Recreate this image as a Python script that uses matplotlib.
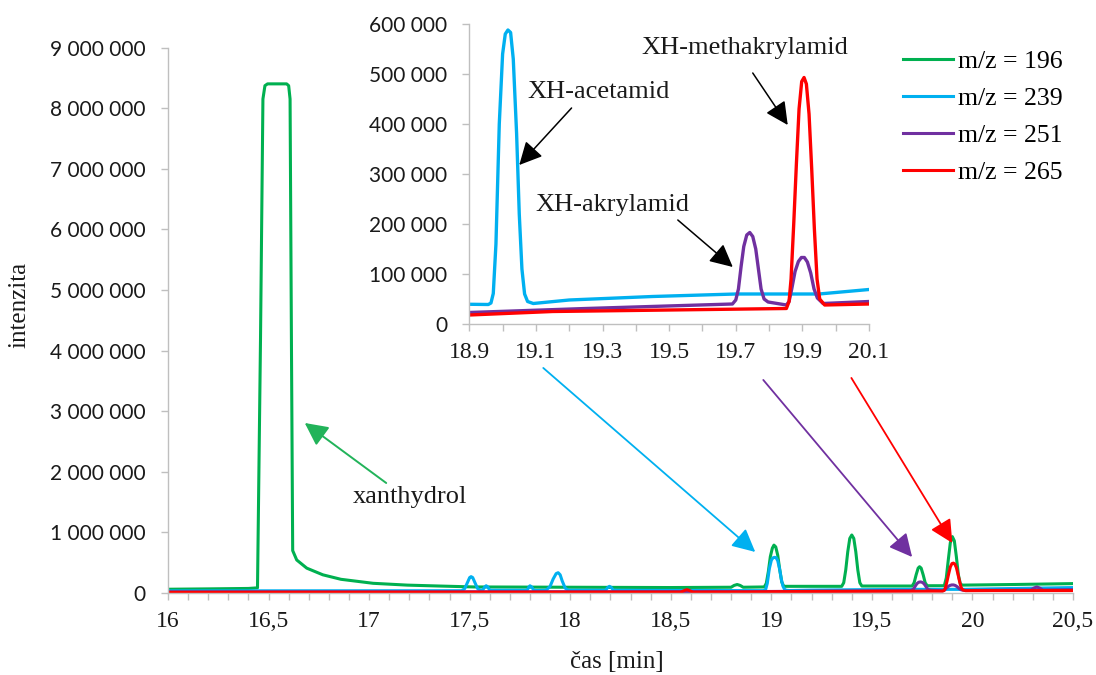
import matplotlib

matplotlib.use("Agg")
import matplotlib.pyplot as plt
from matplotlib.ticker import FixedLocator, FuncFormatter

# Chromatogram traces: retention time [min] and intensity per m/z channel
t_196 = [16.00, 16.20, 16.40, 16.445, 16.46, 16.472, 16.482, 16.495, 16.59, 16.60,
         16.607, 16.614, 16.62, 16.64, 16.69, 16.77, 16.86, 17.02, 17.19, 17.35,
         17.52, 18.00, 18.50, 18.80, 18.815, 18.83, 18.845, 18.86, 18.965, 18.975,
         18.985, 18.995, 19.005, 19.013, 19.022, 19.032, 19.042, 19.052, 19.062, 19.35,
         19.36, 19.37, 19.38, 19.39, 19.40, 19.41, 19.42, 19.43, 19.44, 19.45,
         19.70, 19.71, 19.72, 19.73, 19.737, 19.745, 19.755, 19.765, 19.775, 19.86,
         19.87, 19.88, 19.89, 19.90, 19.91, 19.92, 19.93, 19.94, 19.95, 20.20,
         20.50]
i_196 = [62000, 68000, 75000, 85000, 4200000, 8150000, 8370000, 8400000, 8400000, 8370000,
         8150000, 4000000, 700000, 545000, 410000, 300000, 226000, 160000, 130000, 115000,
         100000, 95000, 90000, 95000, 125000, 140000, 125000, 95000, 100000, 160000,
         350000, 600000, 740000, 790000, 760000, 620000, 380000, 180000, 110000, 110000,
         170000, 380000, 680000, 900000, 957000, 900000, 680000, 380000, 170000, 115000,
         115000, 170000, 300000, 410000, 434000, 410000, 300000, 170000, 120000, 120000,
         250000, 550000, 830000, 930000, 860000, 600000, 300000, 150000, 130000, 140000,
         155000]

t_239 = [16.00, 17.46, 17.475, 17.49, 17.50, 17.507, 17.515, 17.525, 17.54, 17.555,
         17.565, 17.575, 17.582, 17.59, 17.60, 17.785, 17.795, 17.80, 17.808, 17.82,
         17.88, 17.90, 17.915, 17.93, 17.94, 17.95, 17.96, 17.975, 17.99, 18.175,
         18.188, 18.195, 18.203, 18.215, 18.957, 18.965, 18.972, 18.980, 18.990, 19.000,
         19.008, 19.016, 19.024, 19.032, 19.042, 19.050, 19.058, 19.066, 19.075, 19.092,
         19.20, 19.45, 19.70, 19.95, 20.10, 20.50]
i_239 = [35000, 38000, 70000, 180000, 255000, 270000, 255000, 180000, 70000, 45000,
         50000, 100000, 120000, 100000, 45000, 45000, 100000, 120000, 100000, 40000,
         45000, 110000, 230000, 320000, 335000, 300000, 200000, 80000, 45000, 45000,
         95000, 110000, 95000, 45000, 39000, 42000, 61000, 160000, 400000, 540000,
         580000, 588000, 583000, 530000, 381000, 220000, 110000, 60000, 45000, 41000,
         48000, 55000, 60000, 60000, 69000, 90000]

t_251 = [16.00, 18.90, 19.25, 19.69, 19.70, 19.708, 19.716, 19.724, 19.733, 19.742,
         19.751, 19.760, 19.768, 19.776, 19.785, 19.797, 19.852, 19.86, 19.868, 19.878,
         19.888, 19.897, 19.906, 19.915, 19.925, 19.935, 19.945, 19.962, 20.10, 20.29,
         20.305, 20.32, 20.335, 20.35, 20.50]
i_251 = [18000, 23000, 31000, 40000, 48000, 70000, 115000, 155000, 178000, 183000,
         175000, 150000, 110000, 70000, 50000, 44000, 38000, 45000, 70000, 105000,
         125000, 133000, 133000, 124000, 102000, 70000, 52000, 41000, 45000, 50000,
         80000, 100000, 80000, 50000, 55000]

t_265 = [16.00, 18.55, 18.567, 18.58, 18.593, 18.61, 18.90, 19.15, 19.50, 19.852,
         19.86, 19.866, 19.874, 19.882, 19.890, 19.898, 19.905, 19.912, 19.920, 19.928,
         19.936, 19.944, 19.952, 19.967, 20.10, 20.50]
i_265 = [12000, 15000, 40000, 55000, 40000, 15000, 18000, 25000, 28000, 31000,
         45000, 90000, 200000, 320000, 430000, 485000, 493000, 480000, 420000, 310000,
         190000, 90000, 50000, 38000, 40000, 40000]

series_labels = ["m/z = 196", "m/z = 239", "m/z = 251", "m/z = 265"]
series_colors = ["#00B050", "#00B0F0", "#7030A0", "#FF0000"]

main_xticks = [16, 16.5, 17, 17.5, 18, 18.5, 19, 19.5, 20, 20.5]
main_yticks = [0, 1e6, 2e6, 3e6, 4e6, 5e6, 6e6, 7e6, 8e6, 9e6]
inset_xticks = [18.9, 19.1, 19.3, 19.5, 19.7, 19.9, 20.1]
inset_xminor = [19.0, 19.2, 19.4, 19.6, 19.8, 20.0]
inset_yticks = [0, 100000, 200000, 300000, 400000, 500000, 600000]

SERIF = "Liberation Serif"
SANS = "Lato"
GRID = "#BFBFBF"
TXT = "#1a1a1a"

W, H = 1096, 675


def px(x, y):
    """Figure fraction from pixel position measured from the top-left."""
    return x / W, 1 - y / H


def thousands(v, _pos):
    return f"{v:,.0f}".replace(",", " ")


def style_axes(ax):
    for side in ("top", "right"):
        ax.spines[side].set_visible(False)
    for side in ("left", "bottom"):
        ax.spines[side].set_color(GRID)
        ax.spines[side].set_linewidth(1.0)
    ax.tick_params(which="both", direction="out", length=5, width=1, color=GRID)
    ax.tick_params(axis="y", pad=11, labelsize=15, labelcolor=TXT)
    ax.tick_params(axis="x", pad=8, labelsize=17, labelcolor=TXT)
    for lab in ax.get_yticklabels():
        lab.set_fontfamily(SANS)
    for lab in ax.get_xticklabels():
        lab.set_fontfamily(SERIF)


fig = plt.figure(figsize=(W / 100, H / 100), dpi=100)

# main chromatogram
ax = fig.add_axes([168 / W, 1 - 593 / H, 905 / W, 545.5 / H])
traces = [(t_196, i_196), (t_239, i_239), (t_251, i_251), (t_265, i_265)]
lines = []
for (tt, ii), lab, col in zip(traces, series_labels, series_colors):
    ln, = ax.plot(tt, ii, color=col, lw=2.2, label=lab, solid_joinstyle="round")
    lines.append(ln)
ax.set_xlim(16, 20.5)
ax.set_ylim(0, 9e6)
ax.set_xticks(main_xticks)
ax.xaxis.set_minor_locator(FixedLocator([16 + k / 10 for k in range(46)]))
ax.set_yticks(main_yticks)
ax.yaxis.set_major_formatter(FuncFormatter(thousands))
ax.xaxis.set_major_formatter(FuncFormatter(lambda v, p: f"{v:g}".replace(".", ",")))
style_axes(ax)

arrow_kw = dict(arrowstyle="-|>,head_length=0.7,head_width=0.35", mutation_scale=20,
                shrinkA=0, shrinkB=0)
ax.annotate("", xy=(16.68, 2.805e6), xytext=(17.085, 1.815e6),
            arrowprops=dict(color="#22B35A", lw=1.4, **arrow_kw))
ax.text(17.204, 1.584e6, "xanthydrol", fontsize=19, family=SERIF, color=TXT,
        ha="center", va="center")
ax.annotate("", xy=(18.92, 0.677e6), xytext=(17.866, 3.713e6),
            arrowprops=dict(color="#00B0F0", lw=1.3, **arrow_kw))
ax.annotate("", xy=(19.70, 0.594e6), xytext=(18.96, 3.515e6),
            arrowprops=dict(color="#7030A0", lw=1.3, **arrow_kw))
ax.annotate("", xy=(19.90, 0.825e6), xytext=(19.398, 3.548e6),
            arrowprops=dict(color="#FF0000", lw=1.3, **arrow_kw))

# zoomed detail 18.9 - 20.1 min
axi = fig.add_axes([469.3 / W, 1 - 324 / H, 399.7 / W, 300 / H])
axi.set_facecolor("white")
for (tt, ii), col in zip(traces[1:], series_colors[1:]):
    axi.plot(tt, ii, color=col, lw=2.4, solid_joinstyle="round")
axi.set_xlim(18.9, 20.1)
axi.set_ylim(0, 600000)
axi.set_xticks(inset_xticks)
axi.xaxis.set_minor_locator(FixedLocator(inset_xminor))
axi.xaxis.set_major_formatter(FuncFormatter(lambda v, p: f"{v:.1f}"))
axi.set_yticks(inset_yticks)
axi.yaxis.set_major_formatter(FuncFormatter(thousands))
style_axes(axi)

black_kw = dict(color="black", lw=1.1, **arrow_kw)
axi.text(19.289, 464000, "XH-acetamid", fontsize=19, family=SERIF, color=TXT,
         ha="center", va="center")
axi.annotate("", xy=(19.05, 318000), xytext=(19.207, 432000), arrowprops=black_kw)
axi.text(19.727, 552000, "XH-methakrylamid", fontsize=19, family=SERIF, color=TXT,
         ha="center", va="center")
axi.annotate("", xy=(19.856, 398000), xytext=(19.751, 502000), arrowprops=black_kw)
axi.text(19.331, 238000, "XH-akrylamid", fontsize=19, family=SERIF, color=TXT,
         ha="center", va="center")
axi.annotate("", xy=(19.691, 114000), xytext=(19.526, 208000), arrowprops=black_kw)

fig.text(*px(19, 305), "intenzita", rotation=90, fontsize=18, family=SERIF,
         color=TXT, ha="center", va="center")
fig.text(*px(617, 662), "čas [min]", fontsize=18, family=SERIF, color=TXT,
         ha="center", va="center")

fig.legend(handles=lines, labels=series_labels, loc="upper left",
           bbox_to_anchor=px(903, 50), frameon=False, borderaxespad=0, borderpad=0,
           handlelength=1.95, handletextpad=0.2, labelspacing=0.55,
           prop=dict(family=SERIF, size=18.5))

fig.savefig("out.png", dpi=100)
